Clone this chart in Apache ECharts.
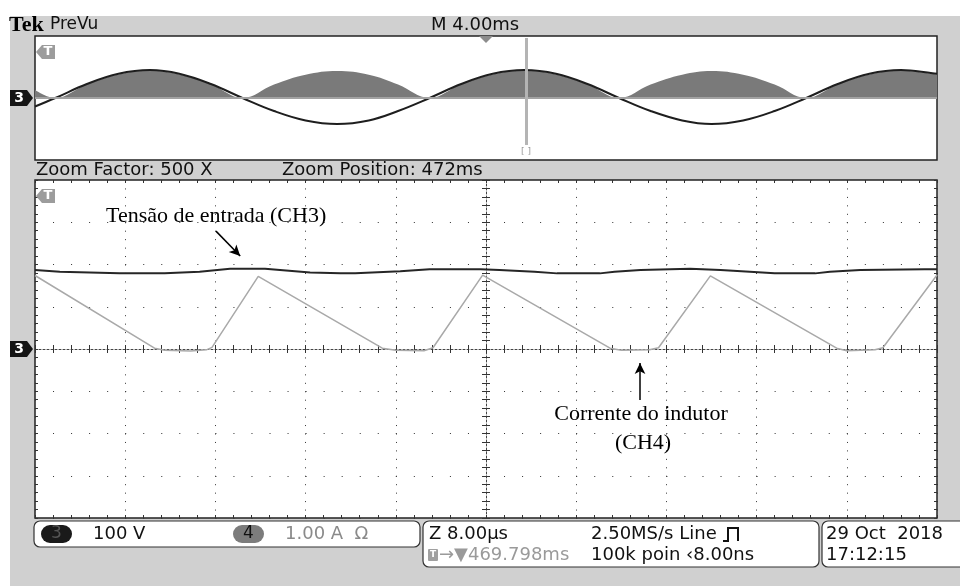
<!DOCTYPE html>
<html>
<head>
<meta charset="utf-8">
<title>Tek PreVu</title>
<script src="https://cdn.jsdelivr.net/npm/echarts@6/dist/echarts.min.js"></script>
<style>
html, body { margin: 0; padding: 0; background: #fff; }
#chart { width: 960px; height: 586px; }
</style>
</head>
<body>
<div id="chart"></div>
<script>
// PreVu record (top window): time in ms, CH3 in V, grey PWM envelope in V
var prevuTime = [0, 0.9, 2.3, 3.7, 5.1, 6.4, 7.8, 9.2, 10.6, 12.0, 13.4, 14.8, 16.1, 17.5, 18.9, 20.3,
	21.7, 23.1, 24.5, 25.9, 27.3, 28.7, 30.0, 31.4, 32.8, 34.2, 35.6, 37.0, 38.4, 39.8, 40.0];
var prevuCh3 = [-55, 0, 90, 156, 180, 156, 90, 0, -84, -145, -168, -145, -84, 0, 90, 156,
	180, 156, 90, 0, -84, -145, -168, -145, -84, 0, 90, 156, 180, 160, 156];
var prevuPwm = [52, 0, 88, 152, 176, 152, 88, 0, 87, 150, 174, 150, 87, 0, 88, 152,
	176, 152, 88, 0, 87, 150, 174, 150, 87, 0, 88, 152, 176, 156, 152];

// zoomed window (bottom): time in us from the centre, CH3 in V, CH4 in A
var ch3Time = [-40, -37.8, -32.5, -28.5, -25.4, -22.7, -19.6, -15.6, -12.9, -11.6, -7.6, -5.0, -0.5, 1.2,
	4.3, 6.3, 10.1, 11.4, 13.7, 18.1, 20.8, 23.4, 25.6, 29.2, 30.5, 33.2, 38.9, 40];
var ch3Volts = [187, 183, 179, 179, 183, 190, 190, 181, 179, 179, 184, 189, 189, 187,
	183, 179, 179, 183, 187, 190, 187, 183, 179, 179, 183, 187, 189, 189];
var ch4Time = [-40, -29.4, -28.5, -26.2, -24.8, -24.3, -20.2, -9.2, -8.0, -5.5, -4.7, -0.3,
	11.0, 12.0, 14.5, 15.3, 19.9, 31.1, 32.0, 34.5, 35.2, 40];
var ch4Amps = [1.74, 0.02, -0.03, -0.05, -0.02, 0.04, 1.72, 0.02, -0.03, -0.04, 0.03, 1.75,
	0.02, -0.03, -0.02, 0.03, 1.73, 0.02, -0.04, -0.02, 0.03, 1.75];

var UI_FONT = 'DejaVu Sans';
var SERIF = 'Liberation Serif';
var PANEL_GREY = '#d0d0d0';

function pairs(xs, ys) {
	var out = [];
	for (var i = 0; i < xs.length; i++) out.push([xs[i], ys[i]]);
	return out;
}

// graticule axis of the zoom window; centre=true puts it on the crosshair
function scopeAxis(pos, min, max, step, centre, dots) {
	return {
		type: 'value', gridIndex: 1, position: pos, min: min, max: max, interval: step,
		axisLine: {
			show: centre && (pos === 'bottom' || pos === 'left'),
			onZero: centre, onZeroAxisIndex: centre ? 1 : null,
			lineStyle: { color: '#444', width: 1, type: [2, 2] }
		},
		axisTick: { show: true, inside: true, length: centre ? 4 : 3, lineStyle: { color: '#333' } },
		minorTick: { show: true, splitNumber: 5, length: centre ? 4 : 3, lineStyle: { color: '#333' } },
		axisLabel: { show: false },
		splitLine: { show: !!dots, lineStyle: { color: '#333', width: 1, type: dots || 'solid' } },
		minorSplitLine: { show: false }
	};
}

function label(txt, x, y, size, color, opt) {
	opt = opt || {};
	return {
		type: 'text', x: x, y: y, z: 100, silent: true,
		style: {
			text: txt, fill: color || '#111', fontSize: size,
			fontFamily: opt.family || UI_FONT, fontWeight: opt.weight || 'normal',
			align: opt.align || 'left', verticalAlign: 'middle'
		}
	};
}
function box(x, y, w, h, r, fill, stroke) {
	return {
		type: 'rect', z: 50, silent: true,
		shape: { x: x, y: y, width: w, height: h, r: r },
		style: { fill: fill, stroke: stroke || null, lineWidth: 1.2 }
	};
}
function chanMarker(y) {
	return [
		{ type: 'polygon', z: 50, silent: true,
			shape: { points: [[10, y - 8], [27, y - 8], [33, y], [27, y + 8], [10, y + 8]] },
			style: { fill: '#151515' } },
		label('3', 19, y, 14, '#fff', { weight: 'bold', align: 'center' })
	];
}
function trigTag(y) {
	return [
		{ type: 'polygon', z: 50, silent: true,
			shape: { points: [[36, y], [42, y - 7], [55, y - 7], [55, y + 7], [42, y + 7]] },
			style: { fill: '#9c9c9c' } },
		label('T', 48, y, 13, '#fff', { weight: 'bold', align: 'center' })
	];
}

var graphics = [
	{ type: 'rect', z: -10, silent: true, shape: { x: 10, y: 16, width: 950, height: 570 }, style: { fill: PANEL_GREY } },
	label('Tek', 9, 25, 22, '#000', { family: SERIF, weight: 'bold' }),
	label('PreVu', 50, 25, 17, '#111'),
	label('M 4.00ms', 431, 25, 18, '#111'),
	{ type: 'polygon', z: 50, silent: true, shape: { points: [[479, 36], [493, 36], [486, 43]] }, style: { fill: '#8c8c8c' } },
	label('[ ]', 526, 152, 9, '#999', { align: 'center' }),
	label('Zoom Factor: 500 X', 36, 170, 18, '#111'),
	label('Zoom Position: 472ms', 282, 170, 18, '#111'),
	// annotations
	label('Tensão de entrada (CH3)', 106, 216, 22, '#000', { family: SERIF }),
	label('Corrente do indutor', 641, 414, 22, '#000', { family: SERIF, align: 'center' }),
	label('(CH4)', 643, 443, 22, '#000', { family: SERIF, align: 'center' }),
	// status bar
	box(34, 521, 386, 26, 6, '#fff', '#333'),
	box(41, 525, 31, 18, 9, '#1a1a1a'),
	label('3', 56.5, 534, 17, '#555', { align: 'center' }),
	label('100 V', 93, 534, 18, '#111'),
	box(233, 525, 31, 18, 9, '#7c7c7c'),
	label('4', 248.5, 534, 17, '#111', { align: 'center' }),
	label('1.00 A  Ω', 285, 534, 18, '#8a8a8a'),
	box(423, 521, 396, 46, 6, '#fff', '#333'),
	label('Z 8.00µs', 429, 534, 18, '#111'),
	label('2.50MS/s Line', 591, 534, 18, '#111'),
	{ type: 'polyline', z: 60, silent: true,
		shape: { points: [[723, 541], [728, 541], [728, 528], [738, 528], [738, 541]] },
		style: { stroke: '#111', lineWidth: 2, fill: null } },
	box(428, 549, 10, 12, 1, '#a0a0a0'),
	label('T', 433, 555, 9, '#fff', { weight: 'bold', align: 'center' }),
	label('→▼469.798ms', 439, 555, 18, '#9a9a9a'),
	label('100k poin ‹8.00ns', 591, 555, 18, '#111'),
	box(822, 521, 160, 46, 6, '#fff', '#333'),
	label('29 Oct  2018', 826, 534, 18, '#111'),
	label('17:12:15', 826, 555, 18, '#111')
].concat(chanMarker(98), chanMarker(349), trigTag(52), trigTag(196));

var noMark = { symbol: ['none', 'none'], silent: true, animation: false, label: { show: false } };

var option = {
	backgroundColor: '#fff',
	animation: false,
	grid: [
		{ left: 35, top: 36, width: 902, height: 124, show: true, backgroundColor: '#fff', borderColor: '#222', borderWidth: 1.5 },
		{ left: 35, top: 180, width: 902, height: 338, show: true, backgroundColor: '#fff', borderColor: '#222', borderWidth: 1.5 }
	],
	xAxis: [
		{ type: 'value', gridIndex: 0, min: 0, max: 40, show: false },
		scopeAxis('bottom', -40, 40, 8, false, [1, 7.45]),
		scopeAxis('top', -40, 40, 8, false, null),
		scopeAxis('bottom', -40, 40, 8, true, null),
		scopeAxis('top', -40, 40, 8, true, null)
	],
	yAxis: [
		{ type: 'value', gridIndex: 0, min: -400, max: 400, show: false },
		scopeAxis('left', -400, 400, 100, false, [1, 17.04]),
		scopeAxis('right', -400, 400, 100, false, null),
		scopeAxis('left', -400, 400, 100, true, null),
		scopeAxis('right', -400, 400, 100, true, null)
	],
	graphic: { elements: graphics },
	series: [
		{
			name: 'PWM', type: 'line', xAxisIndex: 0, yAxisIndex: 0, data: pairs(prevuTime, prevuPwm),
			smooth: 0.4, symbol: 'none', silent: true,
			lineStyle: { width: 0, color: '#888' },
			areaStyle: { color: '#7a7a7a', opacity: 1 },
			markLine: Object.assign({}, noMark, {
				data: [
					{ yAxis: 0, lineStyle: { color: '#a2a2a2', width: 2, type: 'solid' } },
					[{ coord: [21.8, 387], lineStyle: { color: '#b4b4b4', width: 3, type: 'solid' } }, { coord: [21.8, -303] }]
				]
			})
		},
		{
			name: 'CH3 PreVu', type: 'line', xAxisIndex: 0, yAxisIndex: 0, data: pairs(prevuTime, prevuCh3),
			smooth: 0.4, symbol: 'none', silent: true,
			lineStyle: { width: 2, color: '#1e1e1e' }
		},
		{
			name: 'CH4', type: 'line', xAxisIndex: 1, yAxisIndex: 1, data: pairs(ch4Time, ch4Amps.map(function (a) { return a * 100; })),
			symbol: 'none', silent: true,
			lineStyle: { width: 1.5, color: '#a9a9a9' }
		},
		{
			name: 'CH3', type: 'line', xAxisIndex: 1, yAxisIndex: 1, data: pairs(ch3Time, ch3Volts),
			symbol: 'none', silent: true,
			lineStyle: { width: 2, color: '#262626' },
			markLine: {
				silent: true, animation: false, symbol: ['none', 'arrow'], symbolSize: [8, 11],
				label: { show: false },
				lineStyle: { color: '#000', width: 1.5, type: 'solid' },
				data: [
					[{ coord: [-23.95, 279] }, { coord: [-21.8, 220] }],
					[{ coord: [13.66, -121] }, { coord: [13.66, -33] }]
				]
			}
		}
	]
};

var myChart = echarts.init(document.getElementById('chart'));
myChart.setOption(option);
</script>
</body>
</html>
